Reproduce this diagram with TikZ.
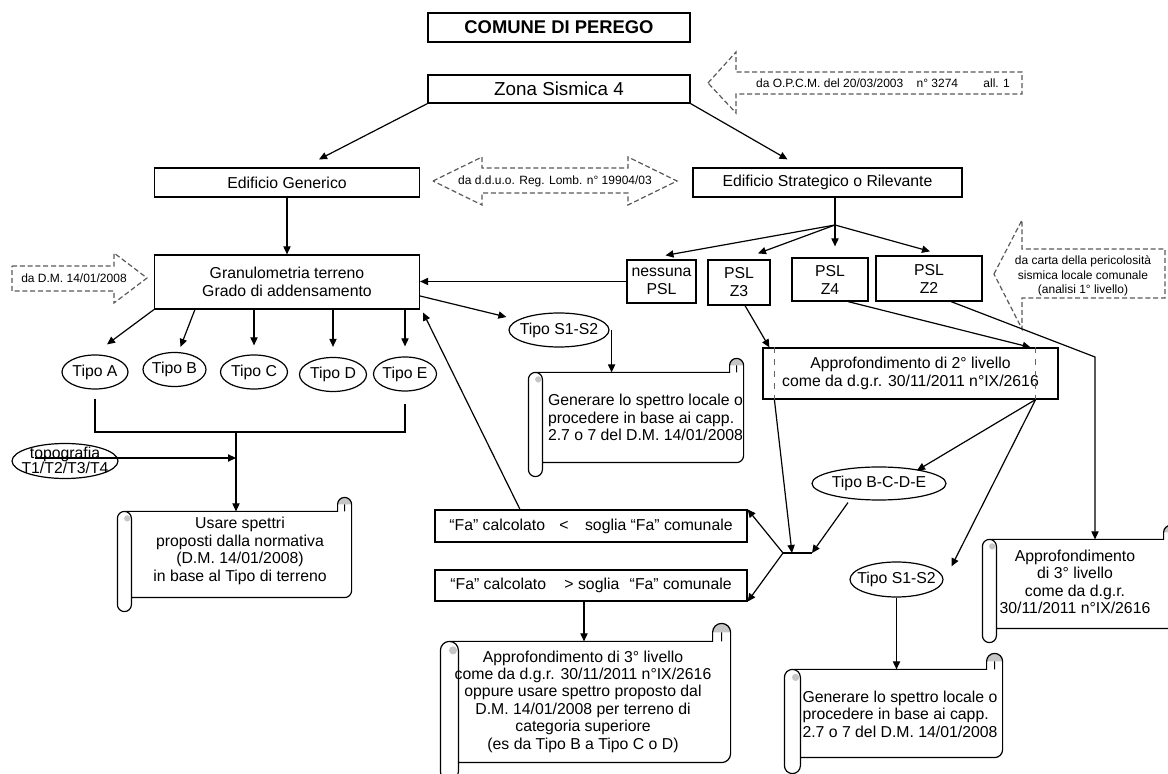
\documentclass[tikz,border=0pt]{standalone}
\usepackage{fontspec}
\setmainfont{Liberation Sans}
\usepackage{tikz}
\usetikzlibrary{shapes,arrows.meta,positioning,calc}

\tikzset{
  box/.style={draw, rectangle, inner sep=1pt, align=center, font=\fontsize{7.9}{9}\selectfont},
  tipo/.style={draw, ellipse, inner xsep=-4pt, inner ysep=0pt, minimum height=17pt, font=\fontsize{7.9}{9}\selectfont},
  arr/.style={-{Triangle[length=4pt,width=3.6pt]}},
  hint/.style={draw=black!65, dash pattern=on 2.5pt off 1.4pt, line width=0.6pt},
  hinttext/.style={font=\fontsize{6}{7.2}\selectfont, align=center, inner sep=0pt},
  scrollbody/.style={inner sep=0pt},
  scrolltext/.style={font=\fontsize{7.9}{8.7}\selectfont, inner sep=0pt}
}

% scroll outline round a body node (roll on the left, curl top right)
\newcommand{\scrollshape}[2][3.5pt]{%
  \def\scrollrad{#1}%
  \fill [gray!45] let \p1=(#2.north west), \p2=(#2.south east) in
    (\x2-2*\scrollrad,\y1+\scrollrad) arc [start angle=180, end angle=0, radius=\scrollrad] -- cycle
    (\x1-0.6*\scrollrad,\y1-\scrollrad) circle [radius=0.45*\scrollrad];
  \draw let \p1=(#2.north west), \p2=(#2.south east) in
    (\x1-\scrollrad,\y1) -- (\x2-2*\scrollrad,\y1) -- (\x2-2*\scrollrad,\y1+\scrollrad)
    arc [start angle=180, end angle=0, radius=\scrollrad] -- (\x2,\y2+\scrollrad)
    arc [start angle=0, end angle=-90, radius=\scrollrad] -- (\x1,\y2) -- (\x1,\y2-\scrollrad)
    arc [start angle=0, end angle=-180, radius=\scrollrad] -- (\x1-2*\scrollrad,\y1-\scrollrad)
    arc [start angle=180, end angle=90, radius=\scrollrad] -- cycle
    (\x1,\y2) -- (\x1,\y1-\scrollrad) arc [start angle=0, end angle=90, radius=\scrollrad]
    (\x2-\scrollrad,\y1+\scrollrad) -- (\x2-\scrollrad,\y1);
}

\begin{document}
\begin{tikzpicture}[x=0.5pt, y=-0.5pt, line width=0.6pt]
    \useasboundingbox (0,0) rectangle (1168,774);

    % Title and zone
    \node [box, font=\fontsize{9.2}{10}\selectfont\bfseries, minimum width=131pt, minimum height=14.5pt] (title) at (559, 27.5) {COMUNE DI PEREGO};
    \node [box, font=\fontsize{9.4}{10}\selectfont, minimum width=131pt, minimum height=14pt] (zona) at (559, 89) {Zona Sismica 4};
    \draw [hint] (708,83) -- (736,52) -- (736,72) -- (1022,72) -- (1022,94) -- (736,94) -- (736,113) -- cycle;
    \node [hinttext] (opcm) at (883, 83) {da O.P.C.M. del 20/03/2003\hspace{5pt} n° 3274\hspace{11pt} all. 1};

    % Buildings
    \node [box, minimum width=132.5pt, minimum height=14.5pt] (edgen) at (287, 182.5) {Edificio Generico};
    \node [box, minimum width=134.5pt, minimum height=14.5pt] (edstr) at (827.5, 182.5) {Edificio Strategico o Rilevante};
    \draw [hint] (433,181) -- (482,157) -- (482,168) -- (628,168) -- (628,157) -- (677,181) -- (628,205) -- (628,193) -- (482,193) -- (482,205) -- cycle;
    \node [hinttext] (dduo) at (555, 181) {da d.d.u.o. Reg. Lomb. n° 19904/03};
    \draw [arr] (zona.south west) -- ([xshift=16pt,yshift=4pt]edgen.north);
    \draw [arr] (zona.south east) -- ([xshift=-20pt,yshift=4pt]edstr.north);

    % Soil
    \node [box, minimum width=132.5pt, minimum height=27pt] (granu) at (287, 282) {Granulometria terreno\\Grado di addensamento};
    \draw [arr] (edgen) -- (granu);
    \draw [hint] (12,266) -- (114,266) -- (114,253) -- (147,278) -- (114,303) -- (114,291) -- (12,291) -- cycle;
    \node [hinttext] (dm) at (74, 278.5) {da D.M. 14/01/2008};

    % PSL
    \coordinate (psl) at (835, 225);
    \draw (edstr.south -| psl) -- (psl);
    \node [box, minimum width=34.5pt, minimum height=21.5pt] (nopsl) at (661.5, 281.5) {nessuna\\PSL};
    \node [box, minimum width=31pt, minimum height=22.5pt] (z3) at (739, 282.5) {PSL\\Z3};
    \node [box, minimum width=38pt, minimum height=21.5pt] (z4) at (830, 279.5) {PSL\\Z4};
    \node [box, minimum width=53pt, minimum height=22.5pt] (z2) at (929, 278.5) {PSL\\Z2};
    \draw [arr] (psl) -- ([xshift=2pt,yshift=2pt]nopsl.north);
    \draw [arr] (psl) -- ([xshift=9.5pt,yshift=3pt]z3.north);
    \draw [arr] (psl) -- ([xshift=2.5pt,yshift=5.5pt]z4.north);
    \draw [arr] (psl) -- ([xshift=0.5pt,yshift=2pt]z2.north);
    \draw [hint] (994,274) -- (1022,220) -- (1022,249) -- (1165,249) -- (1165,298) -- (1022,298) -- (1022,329) -- cycle;
    \node [hinttext] (carta) at (1083, 276) {da carta della pericolosità\\sismica locale comunale\\(analisi 1° livello)};
    \draw [arr] (nopsl.west) -- (nopsl.west -| granu.east);

    % Soil types
    \node [tipo, minimum width=33pt] (tipoA) at (95, 372) {Tipo A};
    \node [tipo, minimum width=31.5pt] (tipoB) at (174.5, 369.5) {Tipo B};
    \node [tipo, minimum width=33.5pt] (tipoC) at (254, 372) {Tipo C};
    \node [tipo, minimum width=33.5pt] (tipoD) at (333, 374.5) {Tipo D};
    \node [tipo, minimum width=31.5pt] (tipoE) at (405, 374) {Tipo E};
    \draw [arr] (granu.south west) -- ([xshift=6pt,yshift=5pt]tipoA.north);
    \draw [arr] ([xshift=20.5pt]granu.south west) -- ([xshift=3pt,yshift=2.5pt]tipoB.north);
    \draw [arr] (tipoC.north |- granu.south) -- ([yshift=4.5pt]tipoC.north);
    \draw [arr] (tipoD.north |- granu.south) -- ([yshift=5pt]tipoD.north);
    \draw [arr] (tipoE.north |- granu.south) -- ([yshift=5pt]tipoE.north);
    \coordinate (brk) at (236, 432);
    \draw ([yshift=-4.5pt]tipoA.south) |- (brk) -| ([yshift=-6pt]tipoE.south);

    % Topography
    \node [draw, ellipse, minimum width=53pt, minimum height=17.5pt, inner sep=0pt] (topo) at (65, 461) {};
    \node [font=\fontsize{7.9}{7.6}\selectfont, align=center, inner sep=0pt] (topotxt) at (65, 460) {topografia\\T1/T2/T3/T4};
    \draw [arr] ([shift={(-15pt,1.5pt)}]topo.center) -- ([yshift=1.5pt]topo.center -| brk);

    \node [scrollbody, minimum width=109.5pt, minimum height=42.5pt] (usare) at (241.5, 554.5) {};
    \scrollshape{usare}
    \node [scrolltext, align=center] (usaretxt) at (240, 551) {Usare spettri\\proposti dalla normativa\\(D.M. 14/01/2008)\\in base al Tipo di terreno};
    \draw [arr] (brk) -- (brk |- usare.north);

    % S1-S2 branch
    \node [tipo, minimum width=50pt] (tipoS1) at (559, 330) {Tipo S1-S2};
    \draw [arr] ([yshift=-7pt]granu.east) -- ([shift={(-1pt,6.5pt)}]tipoS1.west);
    \node [scrollbody, minimum width=100pt, minimum height=44.5pt] (gen1) at (643, 417.5) {};
    \scrollshape{gen1}
    \node [scrolltext, align=left] (gen1txt) at (645.5, 417.5) {Generare lo spettro locale o\\procedere in base ai capp.\\2.7 o 7 del D.M. 14/01/2008};
    \draw [arr] ([xshift=1pt]tipoS1.east) -- ([xshift=1pt]tipoS1.east |- gen1.north);

    % Fa checks
    \node [box, minimum width=156pt, minimum height=16pt] (faless) at (591, 526) {“Fa” calcolato\hspace{5pt} < \hspace{6pt}soglia “Fa” comunale};
    \node [box, minimum width=156pt, minimum height=15.5pt] (famore) at (591, 585.5) {“Fa” calcolato\hspace{7pt} > soglia\hspace{3pt} “Fa” comunale};
    \draw [arr] ([xshift=-35.5pt]faless.north) -- ([shift={(1.5pt,-1.5pt)}]granu.south east);
    \node [scrollbody, minimum width=135.5pt, minimum height=60pt] (scrC) at (594.5, 702) {};
    \scrollshape[4.5pt]{scrC}
    \node [scrolltext, align=center] (scrCtxt) at (583, 701.5) {Approfondimento di 3° livello\\come da d.g.r. 30/11/2011 n°IX/2616\\oppure usare spettro proposto dal\\D.M. 14/01/2008 per terreno di\\categoria superiore\\(es da Tipo B a Tipo C o D)};
    \draw [arr] ([xshift=-3.5pt]famore.south) -- ([xshift=-3.5pt]famore.south |- scrC.north);

    % Level 2
    \node [box, minimum width=147.5pt, minimum height=25.5pt] (app2) at (910.5, 373.5) {Approfondimento di 2° livello\\come da d.g.r. 30/11/2011 n°IX/2616};
    \draw [dashed, black!60] ([xshift=6pt]app2.north west) -- ([xshift=6pt]app2.south west);
    \draw [dashed, black!60] ([xshift=-11.5pt]app2.north east) -- ([xshift=-11.5pt]app2.south east);
    \draw [arr] ([xshift=3pt]z3.south) -- ([xshift=3.5pt]app2.north west);
    \draw [arr] ([xshift=9pt]z4.south) -- ([xshift=-14pt]app2.north east);

    % Level 3 from Z2
    \node [scrollbody, minimum width=90pt, minimum height=44pt] (appr3) at (1087, 584) {};
    \scrollshape{appr3}
    \node [scrolltext, align=center] (appr3txt) at (1075, 582) {Approfondimento\\di 3° livello\\come da d.g.r.\\30/11/2011 n°IX/2616};
    \coordinate (z2bend) at (1095, 357);
    \draw [arr] ([xshift=11pt]z2.south) -- (z2bend) -- (z2bend |- appr3.north);

    % Outcomes of level 2
    \node [tipo, minimum width=67pt, minimum height=16.5pt] (bcde) at (879, 483.5) {Tipo B-C-D-E};
    \node [tipo, minimum width=46.5pt, minimum height=17.5pt] (tipoS2) at (896.5, 579.5) {Tipo S1-S2};
    \draw [arr] ([xshift=-11.5pt]app2.south east) -- ([shift={(19pt,-2pt)}]bcde.north);
    \draw [arr] ([xshift=-11.5pt]app2.south east) -- ([shift={(27.5pt,-2.5pt)}]tipoS2.north);
    \coordinate (jl) at (783, 553);
    \coordinate (jct) at (792, 553);
    \coordinate (jr) at (812, 553);
    \draw (jl) -- (jr);
    \draw [arr] ([xshift=6pt]app2.south west) -- (jct);
    \draw [arr] ([shift={(-15.5pt,-1pt)}]bcde.south) -- (jr);
    \draw [arr] (jl) -- (faless.north east);
    \draw [arr] (jl) -- (famore.south east);

    \node [scrollbody, minimum width=100.5pt, minimum height=43.5pt] (scrD) at (901.5, 713.5) {};
    \scrollshape[4pt]{scrD}
    \node [scrolltext, align=left] (scrDtxt) at (900, 714) {Generare lo spettro locale o\\procedere in base ai capp.\\2.7 o 7 del D.M. 14/01/2008};
    \draw [arr] (tipoS2.south) -- (tipoS2.south |- scrD.north);
\end{tikzpicture}
\end{document}
